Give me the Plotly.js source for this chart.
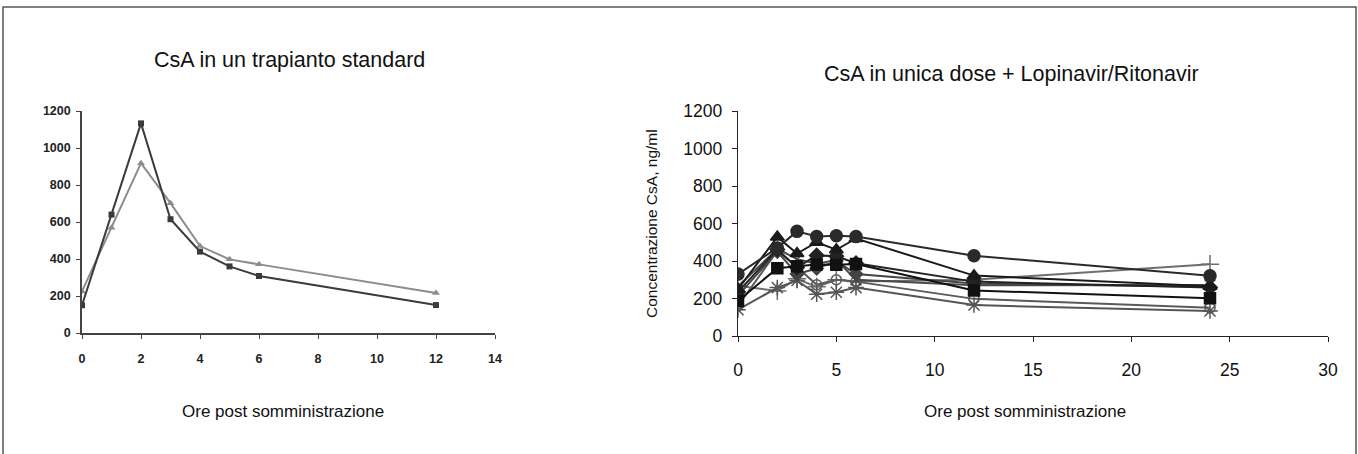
<!DOCTYPE html>
<html>
<head>
<meta charset="utf-8">
<script src="https://cdn.plot.ly/plotly-3.0.1.min.js"></script>
<style>html,body{margin:0;padding:0;background:#fff;}#chart{width:1358px;height:454px;}</style>
</head>
<body>
<div id="chart"></div>
<script>
// Left panel: CsA in a standard transplant
const leftHours = [0, 1, 2, 3, 4, 5, 6, 12];
const leftDark = [150, 640, 1133, 615, 440, 360, 308, 151];
const leftGray = [225, 569, 918, 702, 470, 398, 371, 216];

// Right panel: single-dose CsA + Lopinavir/Ritonavir
const rightHours = [0, 2, 3, 4, 5, 6, 12, 24];
const pCircle   = [330, 470, 558, 531, 535, 530, 428, 321];
const pTriangle = [250, 528, 440, 500, 460, 520, 322, 265];
const pSquare   = [187, 362, 372, 382, 380, 384, 243, 201];
const pDiamond  = [235, 462, 365, 430, 425, 388, 290, 258];
const pStar     = [140, 258, 296, 223, 233, 258, 165, 133];
const pPlus     = [268, 240, 305, 262, 300, 290, 300, 383];
const pOpen     = [160, 455, 368, 273, 300, 290, 198, 150];
const pCross    = [215, 450, 330, 360, 400, 330, 280, 262];
const pX        = [265, 465, 410, 385, 405, 300, 270, 272];

const W = 1358, H = 454;
const px = v => v / W;
const py = v => (H - v) / H;

const traces = [
  {x: leftHours, y: leftGray, xaxis: 'x', yaxis: 'y', mode: 'lines+markers',
   line: {color: '#8c8c8c', width: 2}, marker: {symbol: 'triangle-up', size: 7, color: '#8c8c8c'}},
  {x: leftHours, y: leftDark, xaxis: 'x', yaxis: 'y', mode: 'lines+markers',
   line: {color: '#3a3a3a', width: 2}, marker: {symbol: 'square', size: 6, color: '#3a3a3a'}},
];

const rightSeries = [
  [pPlus, 'cross-thin-open', '#6e6e6e', 13],
  [pOpen, 'circle-open', '#5a5a5a', 10],
  [pStar, 'asterisk-open', '#555555', 13],
  [pX, 'x-thin-open', '#4a4a4a', 11],
  [pCross, 'diamond', '#444444', 10],
  [pDiamond, 'diamond', '#222222', 11],
  [pSquare, 'square', '#111111', 11],
  [pTriangle, 'triangle-up', '#1a1a1a', 12],
  [pCircle, 'circle', '#2a2a2a', 12],
];
rightSeries.forEach(([vals, sym, col, sz]) => {
  traces.push({x: rightHours, y: vals, xaxis: 'x2', yaxis: 'y2', mode: 'lines+markers',
    line: {color: col, width: 2}, marker: {symbol: sym, size: sz, color: col, line: {color: col, width: 1.5}}});
});

const FAM = 'Liberation Sans, Arial, sans-serif';
const leftFont = {family: FAM, size: 12.5, color: '#222', weight: 'bold'};
const rightFont = {family: FAM, size: 17.5, color: '#111'};

const layout = {
  width: W, height: H,
  margin: {l: 0, r: 0, t: 0, b: 0},
  paper_bgcolor: '#fff', plot_bgcolor: '#fff',
  showlegend: false,
  xaxis: {domain: [px(82), px(495)], range: [0, 14], dtick: 2, tick0: 0, showgrid: false, zeroline: false,
    showline: true, linecolor: '#444', linewidth: 1.8, ticks: 'outside', ticklen: 4, tickcolor: '#444',
    tickfont: leftFont, ticklabelstandoff: 9, anchor: 'y'},
  yaxis: {domain: [py(333), py(111)], range: [0, 1200], dtick: 200, tick0: 0, showgrid: false, zeroline: false,
    showline: true, linecolor: '#444', linewidth: 1.8, ticks: 'outside', ticklen: 4, tickcolor: '#444',
    tickfont: leftFont, ticklabelstandoff: 3, anchor: 'x'},
  xaxis2: {domain: [px(738), px(1328)], range: [0, 30], dtick: 5, tick0: 0, showgrid: false, zeroline: false,
    showline: true, linecolor: '#222', linewidth: 1.2, ticks: 'outside', ticklen: 5, tickcolor: '#222',
    tickfont: rightFont, ticklabelstandoff: 13, anchor: 'y2'},
  yaxis2: {domain: [py(336), py(111)], range: [0, 1200], dtick: 200, tick0: 0, showgrid: false, zeroline: false,
    showline: true, linecolor: '#222', linewidth: 1.2, ticks: 'outside', ticklen: 5, tickcolor: '#222',
    tickfont: rightFont, ticklabelstandoff: 6, anchor: 'x2'},
  annotations: [
    {text: 'CsA in un trapianto standard', x: px(289), y: py(60), xref: 'paper', yref: 'paper',
     showarrow: false, xanchor: 'center', yanchor: 'middle', font: {family: FAM, size: 21.5, color: '#111'}},
    {text: 'CsA in unica dose + Lopinavir/Ritonavir', x: px(1011), y: py(74), xref: 'paper', yref: 'paper',
     showarrow: false, xanchor: 'center', yanchor: 'middle', font: {family: FAM, size: 21.5, color: '#111'}},
    {text: 'Ore post somministrazione', x: px(283), y: py(411), xref: 'paper', yref: 'paper',
     showarrow: false, xanchor: 'center', yanchor: 'middle', font: {family: FAM, size: 17, color: '#111'}},
    {text: 'Ore post somministrazione', x: px(1025), y: py(411), xref: 'paper', yref: 'paper',
     showarrow: false, xanchor: 'center', yanchor: 'middle', font: {family: FAM, size: 17, color: '#111'}},
    {text: 'Concentrazione CsA, ng/ml', x: px(652), y: py(224), xref: 'paper', yref: 'paper', textangle: -90,
     showarrow: false, xanchor: 'center', yanchor: 'middle', font: {family: FAM, size: 15.5, color: '#111'}}
  ],
  shapes: [
    {type: 'rect', xref: 'paper', yref: 'paper', x0: px(3), x1: px(1356), y0: -0.05, y1: py(7),
     line: {color: '#555', width: 1.5}}
  ]
};

Plotly.newPlot('chart', traces, layout, {staticPlot: true, displayModeBar: false});
</script>
</body>
</html>
